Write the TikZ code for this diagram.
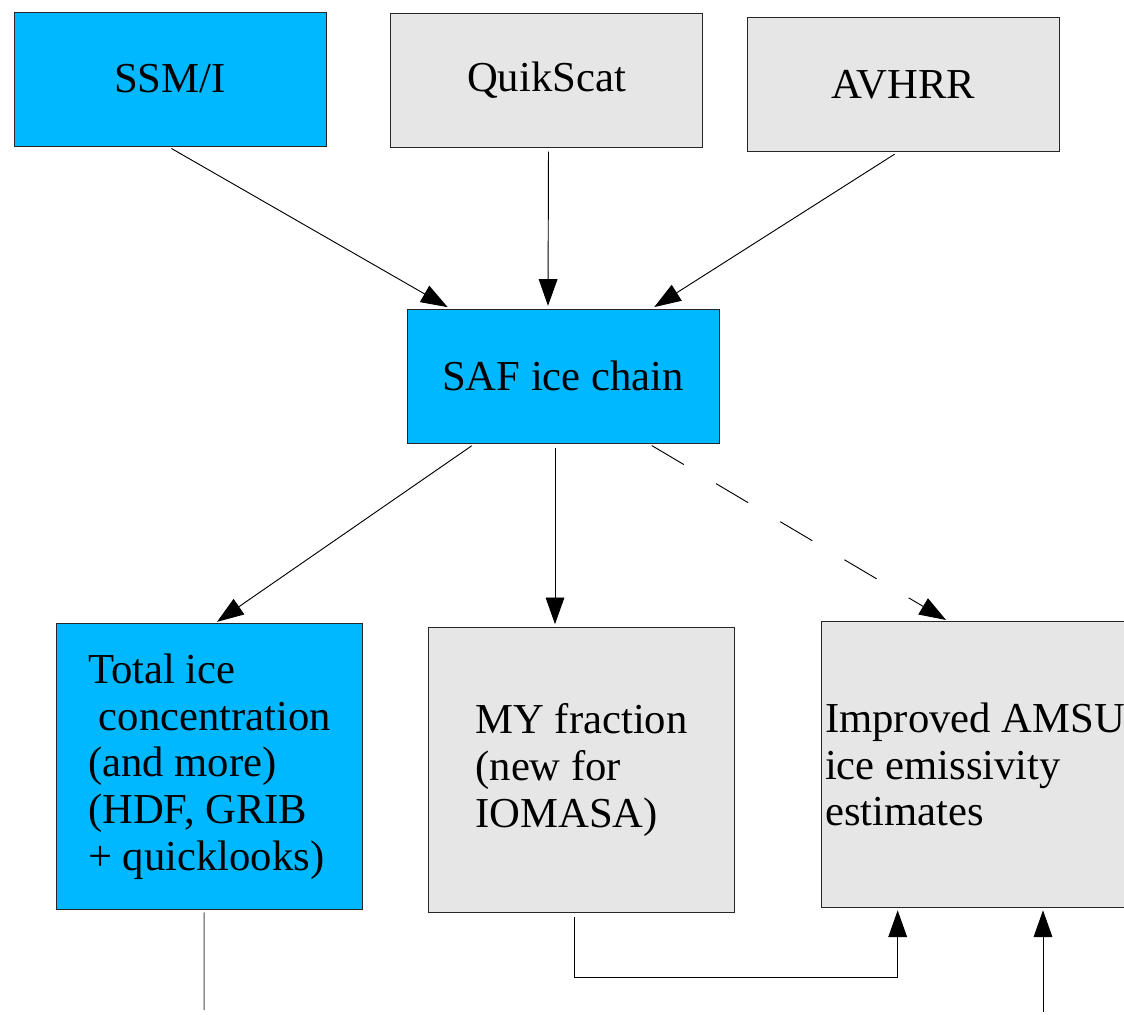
\documentclass[tikz,border=0pt]{standalone}
\usepackage{fontspec}
\setmainfont{Liberation Serif}
\usetikzlibrary{arrows.meta}
\definecolor{satblue}{HTML}{00B8FF}
\definecolor{boxgray}{HTML}{E6E6E6}
\begin{document}
\begin{tikzpicture}[x=0.75pt, y=-0.75pt,
  every node/.style={draw=black!85, line width=0.75pt, inner sep=0pt, font=\fontsize{32}{35}\selectfont},
  topbox/.style={minimum width=234pt, minimum height=100.5pt},
  lowbox/.style={minimum width=230pt, minimum height=214pt, align=left},
  flow/.style={draw=black, line width=0.7pt, -{Triangle[length=20pt,width=14pt]}, shorten >=2pt, shorten <=3pt},
  plain/.style={draw=black!70, line width=0.75pt}]
\useasboundingbox (0,0) rectangle (1124,1014);
\node[topbox, fill=satblue] (ssmi) at (170,79) {SSM/I};
\node[topbox, fill=boxgray] (quik) at (546.5,80) {QuikScat};
\node[topbox, fill=boxgray] (avhrr) at (903,84.5) {AVHRR};
\node[topbox, fill=satblue] (saf) at (563,376) {SAF ice chain};
\node[lowbox, fill=satblue] (total) at (209.5,766.5) {Total ice\\\hspace*{0.25em}concentration\\(and more)\\(HDF, GRIB\\+ quicklooks)};
\node[lowbox, fill=boxgray] (myfrac) at (581.5,770) {MY fraction\\(new for\\IOMASA)};
\node[lowbox, fill=boxgray] (amsu) at (975,764.5) {Improved AMSU\\ice emissivity\\estimates};
\coordinate (totalout) at (204,1010);
\coordinate (amsuin) at (1043,1012);
\draw[flow] ([xshift=-1.5pt]ssmi.south) -- ([xshift=-84.75pt]saf.north);
\draw[flow] ([xshift=1.5pt]quik.south) -- ([xshift=-11.25pt]saf.north);
\draw[flow] ([xshift=-3.75pt]avhrr.south) -- ([xshift=66.75pt]saf.north);
\draw[flow] ([xshift=-66pt]saf.south) -- ([xshift=4pt]total.north);
\draw[flow] ([xshift=-6pt]saf.south) -- ([xshift=-6pt]saf.south |- myfrac.north);
\draw[flow, dash pattern=on 28pt off 28pt] ([xshift=64pt]saf.south) -- ([xshift=-20pt]amsu.north);
\draw[plain, shorten <=2pt] ([xshift=-4pt]total.south) -- (totalout);
\draw[flow] ([xshift=-5pt]myfrac.south) -- ++(0,-48pt) -| ([xshift=-58pt]amsu.south);
\draw[flow, shorten <=0pt] (amsuin) -- (amsuin |- amsu.south);
\end{tikzpicture}
\end{document}
